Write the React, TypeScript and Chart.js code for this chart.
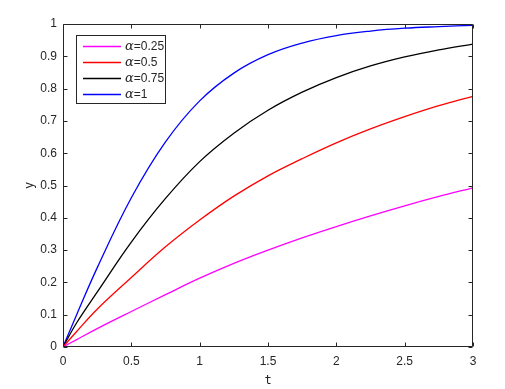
import React, { useEffect, useRef } from "react";
import { Chart, registerables } from "chart.js";

Chart.register(...registerables);

const tValues = [0, 0.1, 0.25, 0.5, 0.75, 1, 1.25, 1.5, 1.75, 2, 2.25, 2.5, 2.75, 3];
const alpha025 = [0, 0.023, 0.057, 0.11, 0.162, 0.213, 0.259, 0.3, 0.338, 0.373, 0.406, 0.437, 0.466, 0.493];
const alpha05 = [0, 0.048, 0.117, 0.215, 0.31, 0.393, 0.467, 0.53, 0.583, 0.632, 0.675, 0.713, 0.747, 0.776];
const alpha075 = [0, 0.075, 0.17, 0.325, 0.46, 0.574, 0.662, 0.733, 0.789, 0.834, 0.87, 0.898, 0.92, 0.938];
const alpha1 = [0, 0.1, 0.245, 0.462, 0.635, 0.762, 0.848, 0.905, 0.941, 0.964, 0.978, 0.987, 0.992, 0.996];

const seriesLabels = ["α=0.25", "α=0.5", "α=0.75", "α=1"];
const seriesColors = ["#ff00ff", "#ff0000", "#000000", "#0000ff"];
const seriesValues = [alpha025, alpha05, alpha075, alpha1];

const xLabel = "t";
const yLabel = "y";

const AXIS_COLOR = "#262626";
const FONT = "'Liberation Sans', Arial, sans-serif";

const decorPlugin = {
  id: "matlabDecor",
  afterDraw(chart: any) {
    const { ctx, chartArea, scales } = chart;
    const xs = scales.x;
    const ys = scales.y;
    const L = Math.round(chartArea.left) + 0.5;
    const R = Math.round(chartArea.right) - 0.5;
    const T = Math.round(chartArea.top) + 0.5;
    const B = Math.round(chartArea.bottom) - 0.5;
    ctx.save();
    ctx.strokeStyle = AXIS_COLOR;
    ctx.lineWidth = 1;
    ctx.beginPath();
    ctx.rect(L, T, R - L, B - T);
    const tl = 4;
    xs.ticks.forEach((tk: any) => {
      const px = Math.round(xs.getPixelForValue(tk.value)) + 0.5;
      ctx.moveTo(px, B);
      ctx.lineTo(px, B - tl);
      ctx.moveTo(px, T);
      ctx.lineTo(px, T + tl);
    });
    ys.ticks.forEach((tk: any) => {
      const py = Math.round(ys.getPixelForValue(tk.value)) + 0.5;
      ctx.moveTo(L, py);
      ctx.lineTo(L + tl, py);
      ctx.moveTo(R, py);
      ctx.lineTo(R - tl, py);
    });
    ctx.stroke();

    ctx.fillStyle = AXIS_COLOR;
    ctx.font = "12px 'DejaVu Sans Mono', 'Liberation Mono', monospace";
    ctx.textAlign = "center";
    ctx.textBaseline = "middle";
    ctx.fillText(xLabel, (L + R) / 2, 381);
    ctx.save();
    ctx.translate(30, (T + B) / 2);
    ctx.rotate(-Math.PI / 2);
    ctx.fillText(yLabel, 0, 0);
    ctx.restore();

    const bx = 76.5, by = 35.5, bw = 89, bh = 68;
    ctx.fillStyle = "#ffffff";
    ctx.fillRect(bx, by, bw, bh);
    ctx.strokeStyle = AXIS_COLOR;
    ctx.lineWidth = 1;
    ctx.strokeRect(bx, by, bw, bh);
    chart.data.datasets.forEach((ds: any, i: number) => {
      const yy = 46.5 + i * 16;
      ctx.strokeStyle = ds.borderColor;
      ctx.lineWidth = 1.3;
      ctx.beginPath();
      ctx.moveTo(83, yy);
      ctx.lineTo(121, yy);
      ctx.stroke();
      const label: string = ds.label;
      const first = label.charAt(0);
      const rest = label.slice(1);
      ctx.fillStyle = AXIS_COLOR;
      ctx.textAlign = "left";
      ctx.textBaseline = "middle";
      ctx.font = "italic 13px 'DejaVu Serif', 'Liberation Serif', serif";
      ctx.fillText(first, 125, yy);
      const w = ctx.measureText(first).width;
      ctx.font = "12px " + FONT;
      ctx.fillText(rest, 125 + w, yy + 0.5);
    });
    ctx.restore();
  },
};

export default function App() {
  const canvasRef = useRef<HTMLCanvasElement | null>(null);

  useEffect(() => {
    const canvas = canvasRef.current;
    if (!canvas) return;
    const chart = new Chart(canvas, {
      type: "line",
      data: {
        datasets: seriesValues.map((vals, i) => ({
          label: seriesLabels[i],
          data: tValues.map((t, j) => ({ x: t, y: vals[j] })),
          borderColor: seriesColors[i],
          backgroundColor: seriesColors[i],
          borderWidth: 1.3,
          pointRadius: 0,
          fill: false,
          tension: 0.4,
        })),
      },
      options: {
        responsive: false,
        animation: false,
        events: [],
        layout: { padding: { top: 24, right: 32, left: 0, bottom: 0 } },
        plugins: {
          legend: { display: false },
          tooltip: { enabled: false },
          title: { display: false },
        },
        scales: {
          x: {
            type: "linear",
            min: 0,
            max: 3,
            border: { display: false },
            grid: { display: false, drawTicks: false },
            ticks: {
              stepSize: 0.5,
              color: AXIS_COLOR,
              font: { family: FONT, size: 12 },
              padding: 7,
              maxRotation: 0,
              callback: (v: any) => String(Math.round(Number(v) * 10) / 10),
            },
            afterFit: (scale: any) => {
              scale.height = 42;
            },
          },
          y: {
            type: "linear",
            min: 0,
            max: 1,
            border: { display: false },
            grid: { display: false, drawTicks: false },
            ticks: {
              stepSize: 0.1,
              color: AXIS_COLOR,
              font: { family: FONT, size: 12 },
              padding: 6,
              callback: (v: any) => String(Math.round(Number(v) * 10) / 10),
            },
            afterFit: (scale: any) => {
              scale.width = 63;
            },
          },
        },
      },
      plugins: [decorPlugin],
    });
    return () => chart.destroy();
  }, []);

  return (
    <div style={{ position: "absolute", left: 0, top: 0, width: 505, height: 389, background: "#fff" }}>
      <canvas ref={canvasRef} width={505} height={389} style={{ display: "block" }} />
    </div>
  );
}
